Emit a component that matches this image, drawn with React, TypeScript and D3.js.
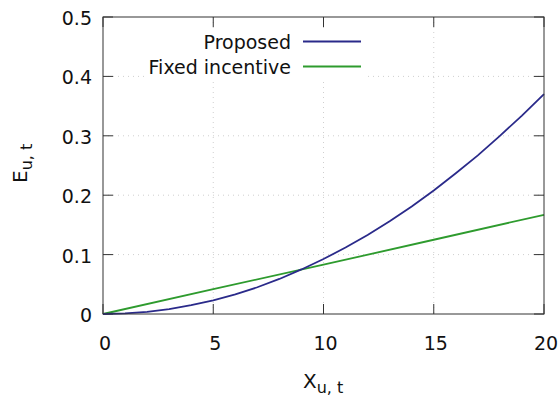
import * as d3 from "d3";

const xTicks = [0, 5, 10, 15, 20];
const yTicks = [0, 0.1, 0.2, 0.3, 0.4, 0.5];

// values
const xValues = [0, 1, 2, 3, 4, 5, 6, 7, 8, 9, 10, 11, 12, 13, 14, 15, 16, 17, 18, 19, 20];
const proposed = [
  0, 0.001, 0.0037, 0.0083, 0.0148, 0.023, 0.033, 0.045, 0.059, 0.075, 0.0925,
  0.112, 0.133, 0.156, 0.181, 0.208, 0.237, 0.267, 0.3, 0.334, 0.37,
];
const fixedX = [0, 5, 10, 15, 20];
const fixedIncentive = [0, 0.042, 0.083, 0.125, 0.167];

const W = 560;
const H = 398;
const left = 103;
const right = 544;
const top = 17;
const bottom = 314;
const font = "'DejaVu Sans', Verdana, sans-serif";

export default function App() {
  const x = d3.scaleLinear().domain([0, 20]).range([left, right]);
  const y = d3.scaleLinear().domain([0, 0.5]).range([bottom, top]);

  const line = d3
    .line<[number, number]>()
    .x((d) => x(d[0]))
    .y((d) => y(d[1]));

  const propPts = xValues.map((v, i) => [v, proposed[i]] as [number, number]);
  const fixPts = fixedX.map((v, i) => [v, fixedIncentive[i]] as [number, number]);

  const blue = "#2a2a8a";
  const green = "#2e9b2e";
  const tick = 10;
  const fs = 19;

  return (
    <svg
      width={W}
      height={H}
      style={{ position: "absolute", left: 0, top: 0, background: "#fff" }}
      fontFamily={font}
    >
      {/* grid */}
      {xTicks.slice(1, -1).map((t) => (
        <line
          key={"gx" + t}
          x1={x(t)}
          x2={x(t)}
          y1={top}
          y2={bottom}
          stroke="#cfcfcf"
          strokeDasharray="1,4"
        />
      ))}
      {yTicks.slice(1, -1).map((t) => (
        <line
          key={"gy" + t}
          x1={left}
          x2={right}
          y1={y(t)}
          y2={y(t)}
          stroke="#cfcfcf"
          strokeDasharray="1,4"
        />
      ))}

      {/* legend background hides grid */}
      <rect x={145} y={28} width={222} height={52} fill="#fff" />

      {/* ticks */}
      {xTicks.map((t) => (
        <g key={"tx" + t}>
          <line x1={x(t)} x2={x(t)} y1={bottom} y2={bottom - tick} stroke="#333" />
          <line x1={x(t)} x2={x(t)} y1={top} y2={top + tick} stroke="#333" />
          <text x={x(t) + 2} y={350} fontSize={fs} textAnchor="middle" fill="#111">
            {t}
          </text>
        </g>
      ))}
      {yTicks.map((t) => (
        <g key={"ty" + t}>
          <line x1={left} x2={left + tick} y1={y(t)} y2={y(t)} stroke="#333" />
          <line x1={right} x2={right - tick} y1={y(t)} y2={y(t)} stroke="#333" />
          <text x={92} y={y(t) + 8} fontSize={fs} textAnchor="end" fill="#111">
            {t === 0 ? "0" : t.toFixed(1)}
          </text>
        </g>
      ))}

      {/* lines */}
      <path d={line(fixPts) ?? ""} fill="none" stroke={green} strokeWidth={1.8} />
      <path d={line(propPts) ?? ""} fill="none" stroke={blue} strokeWidth={1.8} />

      {/* frame */}
      <rect
        x={left}
        y={top}
        width={right - left}
        height={bottom - top}
        fill="none"
        stroke="#333"
        strokeWidth={1}
      />

      {/* legend */}
      <text x={291} y={49} fontSize={fs} textAnchor="end" fill="#111">
        Proposed
      </text>
      <line x1={303} x2={361} y1={41.5} y2={41.5} stroke={blue} strokeWidth={1.8} />
      <text x={291} y={74} fontSize={fs} textAnchor="end" fill="#111">
        Fixed incentive
      </text>
      <line x1={303} x2={361} y1={66.5} y2={66.5} stroke={green} strokeWidth={1.8} />

      {/* axis labels */}
      <text x={303} y={388} fontSize={20} fill="#111">
        X<tspan fontSize={16} dy={5}>u, t</tspan>
      </text>
      <text transform={`translate(27,183) rotate(-90)`} fontSize={20} fill="#111">
        E<tspan fontSize={16} dy={5}>u, t</tspan>
      </text>
    </svg>
  );
}
